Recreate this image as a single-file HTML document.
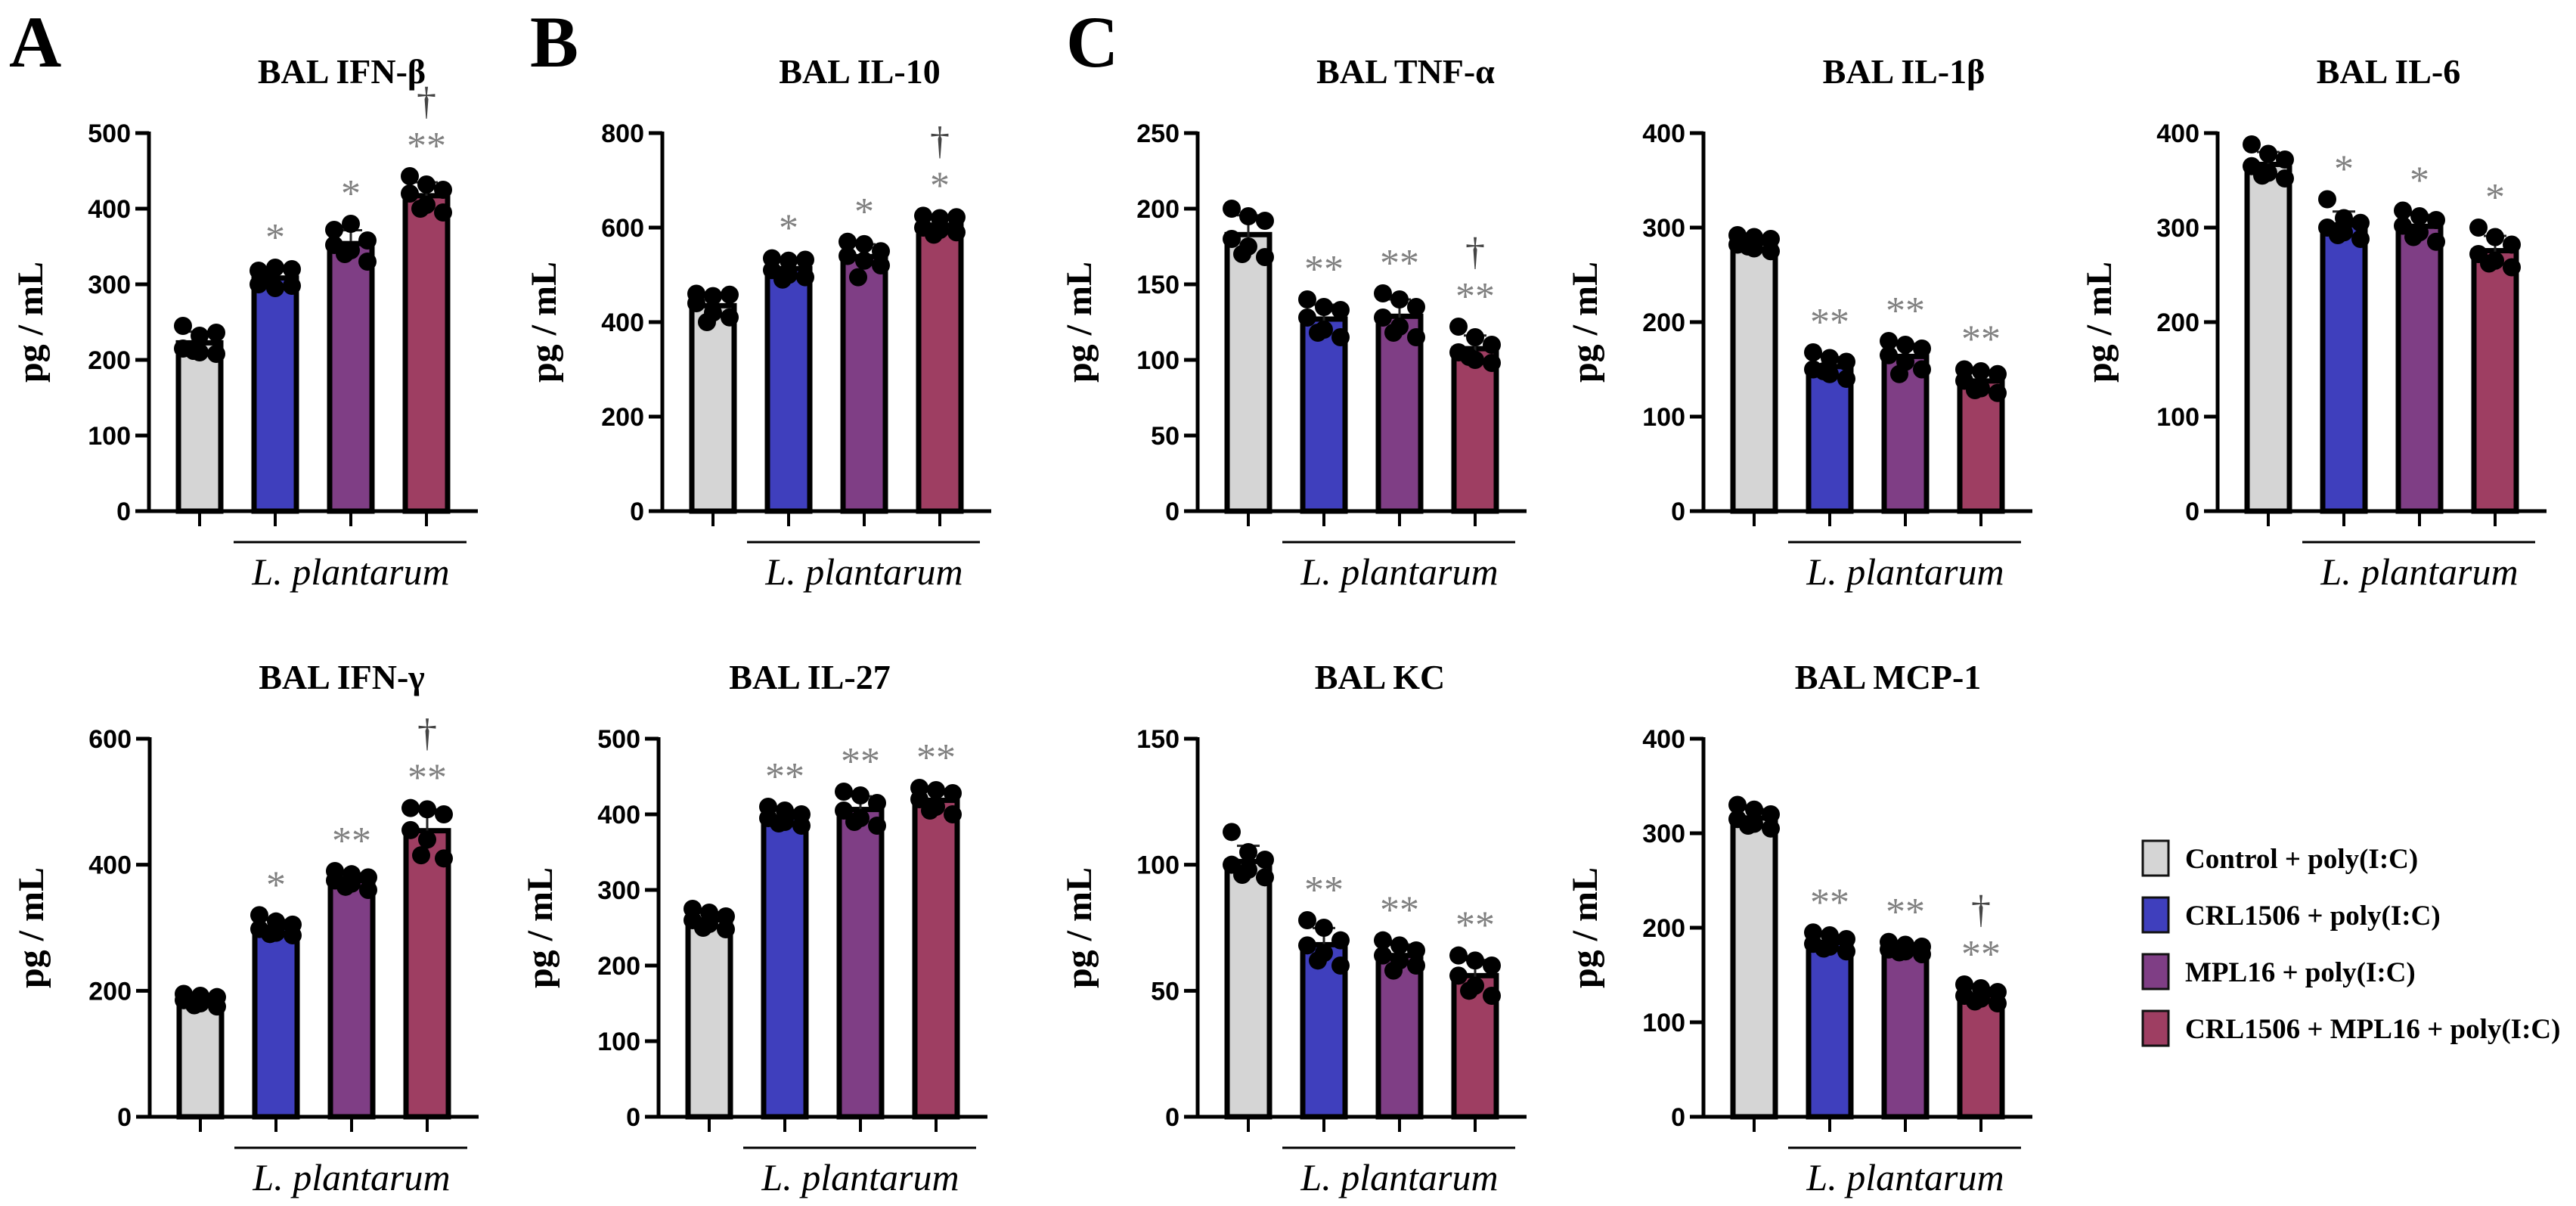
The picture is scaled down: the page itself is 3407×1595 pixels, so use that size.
<!DOCTYPE html>
<html><head><meta charset="utf-8">
<style>
html,body{margin:0;padding:0;background:#fff;}
svg{display:block;}
</style></head>
<body>
<svg id="fig" width="3407" height="1595" viewBox="0 0 3407 1595" xmlns="http://www.w3.org/2000/svg"></svg>
<script>
// ---- data ----
const groupNames = ["Control + poly(I:C)", "CRL1506 + poly(I:C)", "MPL16 + poly(I:C)", "CRL1506 + MPL16 + poly(I:C)"];
const groupColors = ["#d5d5d5", "#3f3fbd", "#7f3e85", "#9e3e62"];

const ifnbValues = [[245,232,236,215,210,208,212],[318,322,320,300,295,298,305],[372,380,358,352,345,330,340],[443,432,425,420,405,395,400]];
const ifnbTicks = [0,100,200,300,400,500];
const ifnbSig = ["","*","*","**"];
const ifnbDagger = [false,false,false,true];

const il10Values = [[460,455,458,440,420,410,400],[535,530,532,510,500,495,490],[570,565,550,540,530,520,495],[625,620,622,600,595,590,585]];
const il10Ticks = [0,200,400,600,800];
const il10Sig = ["","*","*","*"];
const il10Dagger = [false,false,false,true];

const tnfValues = [[200,195,192,180,175,168,170],[140,135,133,128,120,115,118],[144,140,135,128,122,115,118],[122,115,110,105,100,98,102]];
const tnfTicks = [0,50,100,150,200,250];
const tnfSig = ["","**","**","**"];
const tnfDagger = [false,false,false,true];

const il1bValues = [[292,290,288,282,278,275,280],[168,162,158,150,145,140,148],[180,176,172,165,158,150,145],[150,148,145,138,130,125,128]];
const il1bTicks = [0,100,200,300,400];
const il1bSig = ["","**","**","**"];
const il1bDagger = [false,false,false,false];

const il6Values = [[388,378,372,365,358,352,355],[330,310,305,300,295,288,292],[318,312,308,302,295,285,290],[300,290,282,272,265,258,262]];
const il6Ticks = [0,100,200,300,400];
const il6Sig = ["","*","*","*"];
const il6Dagger = [false,false,false,false];

const ifngValues = [[195,192,190,185,180,175,177],[320,310,305,298,292,288,290],[390,385,380,375,370,360,365],[490,488,480,455,440,410,415]];
const ifngTicks = [0,200,400,600];
const ifngSig = ["","*","**","**"];
const ifngDagger = [false,false,false,true];

const il27Values = [[275,270,265,260,255,248,250],[410,405,400,395,390,385,388],[430,425,415,405,395,385,390],[435,432,428,420,410,400,405]];
const il27Ticks = [0,100,200,300,400,500];
const il27Sig = ["","**","**","**"];
const il27Dagger = [false,false,false,false];

const kcValues = [[113,105,102,100,98,95,96],[78,75,70,68,65,60,62],[70,68,66,64,62,60,58],[64,62,60,56,52,48,50]];
const kcTicks = [0,50,100,150];
const kcSig = ["","**","**","**"];
const kcDagger = [false,false,false,false];

const mcpValues = [[330,325,320,315,310,305,308],[195,192,188,183,180,175,178],[185,182,180,177,175,172,174],[140,136,132,128,125,120,122]];
const mcpTicks = [0,100,200,300,400];
const mcpSig = ["","**","**","**"];
const mcpDagger = [false,false,false,true];

// ---- layout ----
const panels = [
  {name:"ifn-beta", title:"BAL IFN-β", vals:ifnbValues, ticks:ifnbTicks, sig:ifnbSig, dag:ifnbDagger, ax:197, y0:676, tdx:255},
  {name:"il-10", title:"BAL IL-10", vals:il10Values, ticks:il10Ticks, sig:il10Sig, dag:il10Dagger, ax:876, y0:676, tdx:261},
  {name:"tnf-alpha", title:"BAL TNF-α", vals:tnfValues, ticks:tnfTicks, sig:tnfSig, dag:tnfDagger, ax:1584, y0:676, tdx:275},
  {name:"il-1beta", title:"BAL IL-1β", vals:il1bValues, ticks:il1bTicks, sig:il1bSig, dag:il1bDagger, ax:2253, y0:676, tdx:265},
  {name:"il-6", title:"BAL IL-6", vals:il6Values, ticks:il6Ticks, sig:il6Sig, dag:il6Dagger, ax:2933, y0:676, tdx:226},
  {name:"ifn-gamma", title:"BAL IFN-γ", vals:ifngValues, ticks:ifngTicks, sig:ifngSig, dag:ifngDagger, ax:198, y0:1477, tdx:254},
  {name:"il-27", title:"BAL IL-27", vals:il27Values, ticks:il27Ticks, sig:il27Sig, dag:il27Dagger, ax:871, y0:1477, tdx:200},
  {name:"kc", title:"BAL KC", vals:kcValues, ticks:kcTicks, sig:kcSig, dag:kcDagger, ax:1584, y0:1477, tdx:241},
  {name:"mcp-1", title:"BAL MCP-1", vals:mcpValues, ticks:mcpTicks, sig:mcpSig, dag:mcpDagger, ax:2253, y0:1477, tdx:244}
];
const jitter = [-22,0,22,-22,0,22,-8];

const NS = "http://www.w3.org/2000/svg";
const svg = document.getElementById("fig");
function mk(tag, attrs, parent, text){
  const e = document.createElementNS(NS, tag);
  for (const k in attrs) e.setAttribute(k, attrs[k]);
  if (text !== undefined) e.textContent = text;
  (parent||svg).appendChild(e);
  return e;
}
const SERIF = "'Liberation Serif', serif";
const SANS = "'Liberation Sans', sans-serif";

[["A",12,88],["B",701,88],["C",1410,88]].forEach(function(l){
  const t = mk("text",{x:l[1],y:l[2],"font-family":SERIF,"font-weight":"bold","font-size":96,fill:"#000"},svg,l[0]);
  
  
});

panels.forEach(function(p){
  const g = mk("g",{});
  
  
  const yMax = p.ticks[p.ticks.length-1];
  const yS = function(v){ return p.y0 - v / yMax * 500; };
  const xS = function(i){ return p.ax + 67 + 100 * i; };

  const title = mk("text",{x:p.ax+p.tdx,y:p.y0-566,"text-anchor":"middle","font-family":SERIF,"font-weight":"bold","font-size":46},g,p.title);
  
  

  const yl = mk("text",{transform:"translate("+(p.ax-152)+","+(p.y0-250)+") rotate(-90)","text-anchor":"middle","dominant-baseline":"middle","font-family":SERIF,"font-weight":"bold","font-size":48},g,"pg / mL");
  
  

  p.vals.forEach(function(arr,i){
    const n = arr.length;
    const mean = arr.reduce(function(a,b){return a+b;},0)/n;
    const sd = Math.sqrt(arr.reduce(function(a,b){return a+(b-mean)*(b-mean);},0)/(n-1));
    const cx = xS(i);
    const bar = mk("rect",{x:cx-28,y:yS(mean),width:56,height:p.y0-yS(mean),fill:groupColors[i],stroke:"#000","stroke-width":7},g);
    
    
    const eb = mk("path",{d:"M"+cx+","+yS(mean-sd)+"V"+yS(mean+sd)+"M"+(cx-15)+","+yS(mean+sd)+"H"+(cx+15),stroke:"#222","stroke-width":3,fill:"none"},g);
    
    
    let top = yS(mean+sd);
    arr.forEach(function(v,j){
      const d = mk("circle",{cx:cx+jitter[j%jitter.length],cy:yS(v),r:12,fill:"#000"},g);
      
      
      top = Math.min(top, yS(v)-12);
    });
    if (p.sig[i]) {
      const sc = top - 36;
      const s = mk("text",{x:cx,y:sc+25,"text-anchor":"middle","font-family":SERIF,"font-size":52,fill:"#808080"},g,p.sig[i]);
      
      
      if (p.dag[i]) {
        const dg = mk("text",{x:cx,y:sc-34,"text-anchor":"middle","font-family":SERIF,"font-size":52,fill:"#444"},g,"†");
        
        
      }
    }
  });

  const ya = mk("line",{x1:p.ax,y1:yS(yMax)-2,x2:p.ax,y2:p.y0,stroke:"#000","stroke-width":5},g);
  
  
  const xa = mk("line",{x1:p.ax-18,y1:p.y0,x2:p.ax+435,y2:p.y0,stroke:"#000","stroke-width":5},g);
  
  
  p.ticks.forEach(function(t){
    mk("line",{x1:p.ax-18,y1:yS(t),x2:p.ax,y2:yS(t),stroke:"#000","stroke-width":5},g);
    const tl = mk("text",{x:p.ax-24,y:yS(t)+12,"text-anchor":"end","font-family":SANS,"font-weight":"bold","font-size":34},g,String(t));
    
    
  });
  for (let i=0;i<4;i++){
    mk("line",{x1:xS(i),y1:p.y0,x2:xS(i),y2:p.y0+20,stroke:"#000","stroke-width":4},g);
  }
  const ul = mk("line",{x1:p.ax+112,y1:p.y0+41,x2:p.ax+420,y2:p.y0+41,stroke:"#000","stroke-width":3},g);
  
  
  const lp = mk("text",{x:p.ax+267,y:p.y0+97,"text-anchor":"middle","font-family":SERIF,"font-style":"italic","font-size":50},g,"L. plantarum");
  
  
});

const legendRowY = [1135, 1210, 1285, 1360];
const lg = mk("g",{});


groupNames.forEach(function(nm,i){
  const ent = mk("g",{},lg);
  
  
  mk("rect",{x:2834,y:legendRowY[i]-23,width:34,height:46,fill:groupColors[i],stroke:"#111","stroke-width":3},ent);
  mk("text",{x:2890,y:legendRowY[i]+13,"font-family":SERIF,"font-weight":"bold","font-size":37},ent,nm);
});
</script>
</body></html>
